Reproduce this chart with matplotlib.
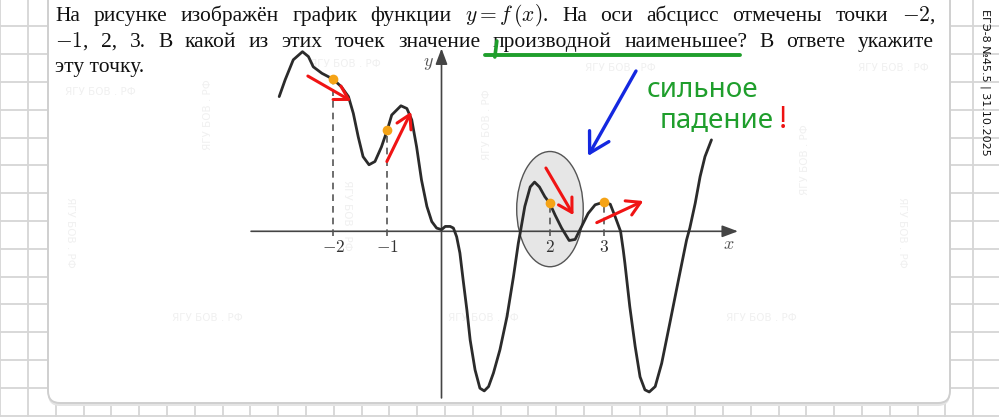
import matplotlib
matplotlib.use('Agg')
import matplotlib.pyplot as plt
from matplotlib.patches import Ellipse, FancyBboxPatch
import numpy as np

plt.rcParams['mathtext.fontset'] = 'cm'

# ---------------- data (math units) ----------------
curve_x = [-3.00, -2.89, -2.74, -2.57, -2.46, -2.37, -2.21, -2.00, -1.85, -1.72,
           -1.63, -1.54, -1.45, -1.34, -1.23, -1.11, -1.00, -0.92, -0.75, -0.64,
           -0.55, -0.46, -0.37, -0.27, -0.18, -0.09, 0.00, 0.07, 0.16, 0.22,
           0.28, 0.34, 0.40, 0.47, 0.53, 0.62, 0.71, 0.79, 0.87, 0.96,
           1.08, 1.21, 1.33, 1.42, 1.46, 1.54, 1.64, 1.72, 1.81, 1.91,
           2.00, 2.10, 2.22, 2.36, 2.47, 2.59, 2.71, 2.84, 3.00, 3.12,
           3.21, 3.31, 3.36, 3.39, 3.48, 3.58, 3.67, 3.76, 3.84, 3.95,
           4.07, 4.22, 4.38, 4.53, 4.59, 4.69, 4.78, 4.87, 4.99]
curve_y = [2.49, 2.80, 3.17, 3.32, 3.23, 3.04, 2.92, 2.81, 2.67, 2.49,
           2.18, 1.75, 1.38, 1.23, 1.29, 1.56, 1.88, 2.15, 2.32, 2.27,
           2.06, 1.56, 0.95, 0.46, 0.18, 0.06, 0.03, 0.09, 0.09, 0.06,
           -0.10, -0.40, -0.90, -1.46, -2.01, -2.56, -2.90, -2.95, -2.87, -2.62,
           -2.19, -1.58, -0.84, -0.22, 0.00, 0.46, 0.82, 0.91, 0.82, 0.64,
           0.52, 0.30, 0.06, -0.17, -0.15, 0.09, 0.33, 0.49, 0.54, 0.50,
           0.27, 0.00, -0.35, -0.59, -1.39, -2.13, -2.69, -2.93, -2.97, -2.87,
           -2.44, -1.70, -0.90, -0.16, 0.06, 0.52, 1.01, 1.38, 1.69]
marked_x = [-2, -1, 2, 3]
marked_y = [2.81, 1.88, 0.52, 0.54]
tick_labels = ['$-2$', '$-1$', '$2$', '$3$']
# tangent arrows (start -> end), math units
arrow_start = [(-2.47, 2.87), (-1.01, 1.29), (1.93, 1.17), (2.87, 0.16)]
arrow_end = [(-1.67, 2.41), (-0.56, 2.21), (2.44, 0.30), (3.73, 0.56)]
# highlighted region
ellipse_center = (2.005, 0.41)
ellipse_size = (1.23, 2.13)

line1 = ["На", "рисунке", "изображён", "график", "функции", r"$y = f\,(x)$.",
         "На", "оси", "абсцисс", "отмечены", "точки", r"$-2$,"]
line2 = [r"$-1$,", "2,", "3.", "В", "какой", "из", "этих", "точек", "значение",
         "производной", "наименьшее?", "В", "ответе", "укажите"]
line3 = "эту точку."
side_label = "ЕГЭ-8 №45.5 | 31.10.2025"
note_1 = "сильное"
note_2 = "падение"
watermark = "ЯГУ БОВ . РФ"

# ---------------- figure ----------------
W, H = 999, 417
fig = plt.figure(figsize=(W / 100, H / 100), dpi=100)
bg = fig.add_axes([0, 0, 1, 1])
bg.set_xlim(0, W)
bg.set_ylim(H, 0)
bg.axis('off')

# grid paper
step = 27.8
for gx in np.arange(28 - step, W + step, step):
    bg.plot([gx, gx], [0, H], color='#d6d6d6', lw=1.3, zorder=0)
for gy in np.arange(26.4 - step, H + step, step):
    bg.plot([0, W], [gy, gy], color='#d6d6d6', lw=1.3, zorder=0)

# card with shadow
bg.add_patch(FancyBboxPatch((48, -40), 902, 446, boxstyle='round,pad=0,rounding_size=12',
                            fc='#e4e4e4', ec='none', zorder=1))
bg.add_patch(FancyBboxPatch((48, -40), 902, 443, boxstyle='round,pad=0,rounding_size=12',
                            fc='white', ec='#cfcfcf', lw=1.4, zorder=2))

# watermarks (very faint)
wm = dict(color='#f0f0f0', fontsize=7.5, ha='center', va='center', zorder=3,
          family='DejaVu Sans')
for (wx, wy) in [(100, 92), (345, 64), (620, 68), (893, 68), (207, 318), (483, 318), (761, 318)]:
    bg.text(wx, wy, watermark, **wm)
for (wx, wy) in [(208, 115), (487, 125), (805, 160)]:
    bg.text(wx, wy, watermark, rotation=90, **wm)
for (wx, wy) in [(70, 232), (347, 215), (902, 232)]:
    bg.text(wx, wy, watermark, rotation=-90, **wm)

# side label
bg.text(985, 9, side_label, rotation=-90, ha='center', va='top', fontsize=8,
        color='#111111', family='DejaVu Sans', zorder=4)

# problem text (justified)
tkw = dict(family='Liberation Serif', fontsize=15.5, color='#111111', zorder=5)
renderer = fig.canvas.get_renderer()


def justify(words, x0, x1, ybase):
    ts = [bg.text(0, ybase, w, ha='left', va='baseline', **tkw) for w in words]
    ws = [t.get_window_extent(renderer=renderer).width for t in ts]
    gap = (x1 - x0 - sum(ws)) / (len(ws) - 1)
    pos = []
    x = x0
    for t, w in zip(ts, ws):
        t.set_x(x)
        pos.append((x, w))
        x += w + gap
    return pos


justify(line1, 55, 935, 20.5)
pos2 = justify(line2, 55, 934, 46.5)
bg.text(55, 72, line3, ha='left', va='baseline', **tkw)

# green underline under "производной наименьшее"
green = '#1f9e2c'
u0 = pos2[9][0]
u1 = pos2[10][0] + pos2[10][1] - 7
bg.plot([u0 - 8, u1], [55, 55], color=green, lw=2.8, solid_capstyle='round', zorder=6)
bg.plot([u0 + 4, u0 + 2], [41, 57], color=green, lw=2.6, solid_capstyle='round', zorder=6)

# handwritten note
bg.text(647, 97, note_1, color=green, fontsize=20, family='Noto Sans', ha='left',
        va='baseline', zorder=6)
bg.text(660, 128, note_2, color=green, fontsize=20, family='Noto Sans', ha='left',
        va='baseline', zorder=6)
bg.text(779, 128, '!', color='#ee1111', fontsize=22, family='Noto Sans', ha='left',
        va='baseline', zorder=6)

# blue arrow
bg.annotate('', xy=(588, 156), xytext=(636, 71),
            arrowprops=dict(arrowstyle='->,head_length=0.7,head_width=0.4', color='#1428e0',
                            lw=2.4, shrinkA=0, shrinkB=0, mutation_scale=20), zorder=6)

# ---------------- function graph ----------------
ux = 54.1
ox, oy = 441.5, 231.3
xl = (-3.8, 5.8)
yl = (-3.3, 3.6)
left = ox + xl[0] * ux
right = ox + xl[1] * ux
bot = oy - yl[0] * ux
top = oy - yl[1] * ux
ax = fig.add_axes([left / W, (H - bot) / H, (right - left) / W, (bot - top) / H])
ax.set_xlim(xl)
ax.set_ylim(yl)
ax.axis('off')
ax.patch.set_alpha(0)

ax.add_patch(Ellipse(ellipse_center, *ellipse_size, fc='#e6e6e6', ec='#555555', lw=1.0,
                     zorder=1))

axis_col = '#444444'
ax.annotate('', xy=(5.48, 0), xytext=(-3.52, 0),
            arrowprops=dict(arrowstyle='-|>,head_length=0.8,head_width=0.3', color=axis_col,
                            lw=1.2, shrinkA=0, shrinkB=0, mutation_scale=12), zorder=2)
ax.annotate('', xy=(0, 3.38), xytext=(0, -3.08),
            arrowprops=dict(arrowstyle='-|>,head_length=0.8,head_width=0.3', color=axis_col,
                            lw=1.2, shrinkA=0, shrinkB=0, mutation_scale=12), zorder=2)
ax.text(5.31, -0.24, '$x$', fontsize=13, color='#555555', ha='center', va='center')
ax.text(-0.24, 3.12, '$y$', fontsize=13, color='#555555', ha='center', va='center')

for mx, my, lab in zip(marked_x, marked_y, tick_labels):
    ax.plot([mx, mx], [-0.08, my], color='#555555', lw=1.2, ls=(0, (4, 3)), zorder=2)
    ax.text(mx, -0.29, lab, fontsize=12.5, color='#333333', ha='center', va='center')

ax.plot(curve_x, curve_y, color='#2b2b2b', lw=2.0, solid_joinstyle='round',
        solid_capstyle='round', zorder=3)
ax.plot(marked_x, marked_y, 'o', color='#f5a316', ms=7, mec='none', zorder=5)

for s, e in zip(arrow_start, arrow_end):
    ax.annotate('', xy=e, xytext=s,
                arrowprops=dict(arrowstyle='->,head_length=0.6,head_width=0.35',
                                color='#f01414', lw=2.2, shrinkA=0, shrinkB=0,
                                mutation_scale=16), zorder=6)

fig.savefig('out.png', dpi=100)
